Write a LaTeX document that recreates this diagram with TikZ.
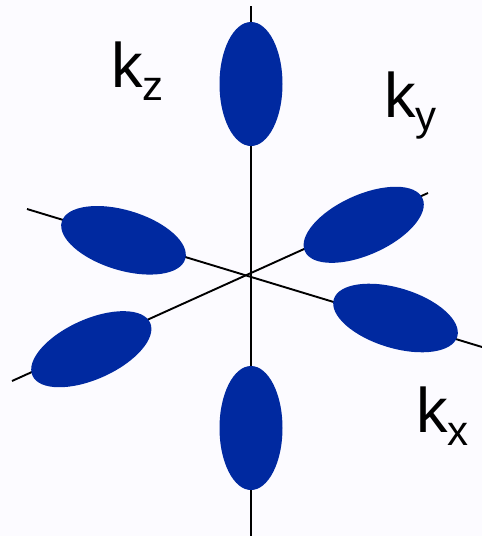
\documentclass[tikz,border=0pt]{standalone}
\usepackage{fontspec}
\setmainfont{Liberation Sans}
\usetikzlibrary{shapes.geometric}
\definecolor{lobeblue}{RGB}{0,41,160}
\definecolor{paper}{RGB}{252,251,255}
\newcommand{\klabel}[1]{k\raisebox{-13pt}{\fontsize{42}{42}\selectfont #1}}

\begin{document}
\begin{tikzpicture}[
    x=1pt, y=-1pt,
    axis/.style={line width=1.9pt, black},
    lobe/.style={ellipse, fill=lobeblue, inner sep=0pt, minimum width=129pt, minimum height=60pt},
    vlobe/.style={lobe, minimum width=63pt, minimum height=124pt},
    klab/.style={anchor=base west, inner sep=0pt, font=\fontsize{63}{63}\selectfont},
]
% Background
\fill[paper] (0,0) rectangle (482,536);
\useasboundingbox (0,0) rectangle (482,536);

% Axes
\coordinate (o) at (251,275);
\coordinate (ztop) at (251,6);
\coordinate (zbot) at (251,536);
\coordinate (xneg) at (27,209);
\coordinate (xpos) at (482,347);
\coordinate (yneg) at (12,381);
\coordinate (ypos) at (428,193);
\draw[axis] (ztop) -- (zbot);
\draw[axis] (xneg) -- (xpos);
\draw[axis] (yneg) -- (ypos);

% Lobes
\node[vlobe] (zup) at (251,84) {};
\node[vlobe] (zdown) at (251,428) {};
\node[lobe, rotate=-16.9] (xback) at (123.5,240.3) {};
\node[lobe, rotate=-16.9] (xfront) at (395.5,318) {};
\node[lobe, rotate=24.2] (yfront) at (363.7,224.8) {};
\node[lobe, rotate=24.2] (yback) at (91.3,349.2) {};

% Labels
\node[klab] (kz) at (111,87) {\klabel{z}};
\node[klab] (ky) at (384,117) {\klabel{y}};
\node[klab] (kx) at (416,432) {\klabel{x}};
\end{tikzpicture}
\end{document}
